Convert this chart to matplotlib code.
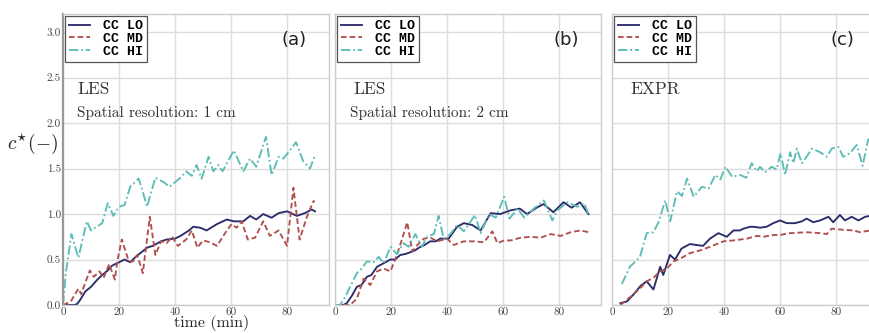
import matplotlib
matplotlib.use("Agg")
import matplotlib.pyplot as plt
from matplotlib.ticker import FuncFormatter

plt.rcParams['mathtext.fontset'] = 'cm'
plt.rcParams['axes.formatter.use_mathtext'] = True

labels = ['CC LO', 'CC MD', 'CC HI']
panel_tags = ['(a)', '(b)', '(c)']
panel_texts = [['LES', 'Spatial resolution: 1 cm'], ['LES', 'Spatial resolution: 2 cm'], ['EXPR']]
x_ticks = [0, 20, 40, 60, 80]
y_ticks = [0.0, 0.5, 1.0, 1.5, 2.0, 2.5, 3.0]

# Panel (a)
a_lo_t = [0, 2, 4, 5, 6, 8, 10, 12, 14, 16, 17, 18, 20, 22, 24, 26, 28, 30, 32, 35, 37, 40, 42, 45, 46.5, 49, 51.3, 55, 58.5, 61, 64.4, 66.8, 69, 71.5, 74.5, 77, 80, 83.5, 86.4, 88.8, 90]
a_lo_v = [0, 0, 0, 0.01, 0.05, 0.15, 0.2, 0.27, 0.33, 0.38, 0.42, 0.44, 0.47, 0.5, 0.47, 0.53, 0.58, 0.63, 0.65, 0.7, 0.72, 0.73, 0.76, 0.82, 0.86, 0.85, 0.82, 0.89, 0.94, 0.92, 0.92, 0.98, 0.94, 1.0, 0.96, 1.01, 1.03, 0.98, 1.01, 1.05, 1.03]
a_md_t = [0, 1.5, 3, 5.5, 6.5, 8, 9.6, 11, 13, 14.5, 16.5, 18.5, 19.5, 21, 23.5, 25, 26.5, 28.5, 31, 33, 35, 37, 39, 41, 44, 46, 48, 50, 52.5, 55, 58.5, 60.2, 62, 63.8, 66, 68.6, 71.5, 73.9, 77, 80, 82.3, 84.5, 87, 89.4, 90]
a_md_v = [0, 0.02, 0.05, 0.18, 0.12, 0.25, 0.38, 0.31, 0.37, 0.3, 0.45, 0.28, 0.5, 0.72, 0.48, 0.48, 0.55, 0.35, 0.97, 0.55, 0.7, 0.68, 0.75, 0.65, 0.72, 0.82, 0.63, 0.71, 0.69, 0.65, 0.82, 0.89, 0.85, 0.92, 0.72, 0.74, 0.92, 0.76, 0.82, 0.65, 1.29, 0.72, 0.96, 1.14, 1.14]
a_hi_t = [0, 1, 3, 5.5, 8.5, 10, 12, 14, 16, 18, 20, 22, 24, 27, 28, 30, 33, 36, 38, 42, 44, 46, 47.7, 49.5, 52, 53.7, 55.5, 57, 61, 64.4, 66.8, 69, 72.5, 74.5, 77, 78.7, 80.5, 83.2, 85.8, 88.2, 90]
a_hi_v = [0, 0.35, 0.78, 0.52, 0.92, 0.82, 0.86, 0.9, 1.12, 0.98, 1.08, 1.1, 1.3, 1.39, 1.3, 1.08, 1.4, 1.35, 1.3, 1.4, 1.47, 1.42, 1.54, 1.39, 1.63, 1.47, 1.54, 1.47, 1.70, 1.47, 1.61, 1.52, 1.85, 1.43, 1.63, 1.61, 1.68, 1.79, 1.58, 1.5, 1.65]

# Panel (b)
b_lo_t = [0, 3, 4.2, 6, 7.8, 9.5, 11.4, 13, 15, 17.4, 19.8, 21.5, 23.3, 25, 26.9, 28.5, 30.5, 32, 34, 36, 37.6, 40.6, 43.6, 46, 49, 52, 55.6, 59, 62.6, 66, 68.6, 72, 74.5, 78, 81.6, 84.5, 87.5, 90.5]
b_lo_v = [0, 0, 0.02, 0.1, 0.2, 0.22, 0.31, 0.33, 0.42, 0.46, 0.50, 0.5, 0.55, 0.56, 0.58, 0.6, 0.64, 0.66, 0.70, 0.7, 0.73, 0.73, 0.86, 0.90, 0.88, 0.82, 1.01, 1.0, 1.04, 1.06, 1.0, 1.07, 1.11, 1.02, 1.13, 1.07, 1.13, 1.0]
b_md_t = [0, 3, 5.4, 7.8, 10.2, 12.6, 15, 17.4, 19.8, 22.1, 24, 25.8, 27.6, 29.4, 31.8, 34.1, 36.5, 40, 42.4, 46, 49.6, 53.2, 56.2, 58, 60.4, 62.8, 66.3, 69.9, 73.4, 77, 80.6, 84.1, 87.7, 90.6]
b_md_v = [0, 0, 0, 0.07, 0.29, 0.22, 0.37, 0.40, 0.37, 0.55, 0.73, 0.91, 0.59, 0.66, 0.73, 0.74, 0.70, 0.73, 0.66, 0.70, 0.70, 0.69, 0.81, 0.68, 0.71, 0.71, 0.74, 0.75, 0.74, 0.78, 0.76, 0.80, 0.82, 0.80]
b_hi_t = [0, 1.8, 3.5, 5.4, 7.8, 9.5, 11.4, 13.8, 15.6, 17.4, 19.8, 22.1, 24.5, 26.3, 28.7, 31, 32.9, 35.3, 37, 38.8, 41.2, 43.6, 46, 48.5, 50, 52, 55, 57.4, 60.4, 62.3, 65.2, 67.6, 71, 74.6, 77.6, 79.4, 83, 86.6, 89, 90.5]
b_hi_v = [0, 0, 0.08, 0.2, 0.35, 0.4, 0.48, 0.47, 0.53, 0.46, 0.64, 0.56, 0.68, 0.64, 0.78, 0.64, 0.75, 0.78, 0.98, 0.73, 0.78, 0.88, 0.81, 0.92, 0.99, 0.79, 1.0, 0.96, 1.19, 0.95, 1.06, 0.96, 1.06, 1.15, 0.93, 1.04, 1.13, 1.08, 1.12, 1.0]

# Panel (c)
c_lo_t = [3, 5.4, 7.8, 10.2, 12.4, 14.8, 17.2, 18.3, 20.7, 22.5, 24.8, 27.8, 30.2, 32.5, 35, 38, 41, 43.4, 45.7, 47, 49.3, 50.6, 52.9, 55.2, 57.6, 60, 62.4, 65.4, 67.8, 69.5, 71.9, 74.3, 77.3, 79, 81.4, 83.2, 85.6, 88, 90.4, 92.2]
c_lo_v = [0.02, 0.04, 0.12, 0.21, 0.26, 0.17, 0.42, 0.33, 0.55, 0.50, 0.62, 0.67, 0.66, 0.65, 0.73, 0.79, 0.75, 0.82, 0.82, 0.84, 0.86, 0.86, 0.85, 0.86, 0.90, 0.93, 0.90, 0.90, 0.92, 0.95, 0.91, 0.93, 0.97, 0.91, 0.99, 0.93, 0.97, 0.93, 0.97, 0.98]
c_md_t = [3, 5.4, 7.8, 10.2, 12.4, 14.8, 17.2, 19.6, 22, 24.4, 27.8, 31.4, 35, 39.8, 43.4, 48.2, 51.7, 54.1, 57.6, 60, 63.6, 69.5, 74.3, 76.7, 78.5, 81.4, 86.2, 88.6, 92.2]
c_md_v = [0, 0.06, 0.12, 0.19, 0.26, 0.30, 0.37, 0.40, 0.48, 0.51, 0.57, 0.60, 0.64, 0.70, 0.71, 0.73, 0.76, 0.75, 0.77, 0.77, 0.79, 0.80, 0.79, 0.78, 0.84, 0.83, 0.82, 0.80, 0.82]
c_hi_t = [3.5, 6.4, 10, 12.4, 14.8, 16.6, 19, 20.8, 23.2, 25, 26.8, 29.2, 32.1, 34.5, 36.9, 38.7, 40.5, 42.9, 45.7, 48, 49.9, 51.7, 52.9, 54.6, 57, 58.8, 60.2, 61.8, 63.6, 64.8, 66, 67.8, 69.5, 71.4, 74.3, 76.7, 78.5, 80.8, 82.6, 85, 87.4, 89.5, 91.5, 93]
c_hi_v = [0.23, 0.42, 0.53, 0.79, 0.8, 0.91, 1.15, 0.92, 1.25, 1.2, 1.39, 1.19, 1.30, 1.28, 1.43, 1.38, 1.52, 1.41, 1.43, 1.40, 1.56, 1.47, 1.52, 1.46, 1.52, 1.49, 1.67, 1.43, 1.68, 1.56, 1.72, 1.56, 1.63, 1.72, 1.68, 1.63, 1.72, 1.74, 1.63, 1.67, 1.76, 1.53, 1.82, 1.8]

panels = [
    [(a_lo_t, a_lo_v), (a_md_t, a_md_v), (a_hi_t, a_hi_v)],
    [(b_lo_t, b_lo_v), (b_md_t, b_md_v), (b_hi_t, b_hi_v)],
    [(c_lo_t, c_lo_v), (c_md_t, c_md_v), (c_hi_t, c_hi_v)],
]

colors = ['#2c2c6c', '#b0504c', '#5cbdb6']
styles = ['-', (0, (3, 1.6)), (0, (5, 1.5, 1, 1.5))]

W, H = 870, 333
fig = plt.figure(figsize=(W / 100, H / 100), dpi=100)
fig.patch.set_facecolor('white')

lefts = [63, 335, 612]
ax_w = 266
ax_top, ax_bot = 14, 305
text_x = [0.053, 0.068, 0.068]
sub_x = [0.053, 0.056, 0.056]
CM = 'cmr10'

for i, (left, data) in enumerate(zip(lefts, panels)):
    ax = fig.add_axes([left / W, 1 - ax_bot / H, ax_w / W, (ax_bot - ax_top) / H])
    for (t, v), c, ls, lab in zip(data, colors, styles, labels):
        ax.plot(t, v, color=c, linestyle=ls, linewidth=1.35, label=lab)
    ax.set_xlim(0, 95)
    ax.set_ylim(0, 3.2)
    ax.set_xticks(x_ticks)
    ax.set_yticks(y_ticks)
    ax.grid(True, color='#dddddd', linewidth=1.0)
    ax.set_axisbelow(True)
    for s in ax.spines.values():
        s.set_color('#cccccc')
        s.set_linewidth(1.0)
    if i == 0:
        ax.spines['left'].set_color('#999999')
        ax.spines['left'].set_linewidth(1.6)
    ax.tick_params(length=0, pad=1.5, labelsize=8, labelcolor='#444444')
    ax.xaxis.set_major_formatter(FuncFormatter(lambda v, p: '%d' % v))
    for lab in ax.get_xticklabels() + ax.get_yticklabels():
        lab.set_fontfamily(CM)
    if i == 0:
        ax.yaxis.set_major_formatter(FuncFormatter(lambda v, p: '%.1f' % v))
    else:
        ax.tick_params(axis='y', labelleft=False)
    for lab in ax.get_xticklabels() + ax.get_yticklabels():
        lab.set_fontfamily(CM)
    leg = ax.legend(loc='upper left', prop=dict(family='Liberation Mono', weight='bold', size=9.5),
                    handlelength=1.6, handletextpad=1.0, labelspacing=0.05, borderpad=0.3,
                    borderaxespad=0.15, fancybox=False, framealpha=1, edgecolor='#555555')
    leg.get_frame().set_linewidth(0.9)
    ax.text(0.868, 0.91, panel_tags[i], transform=ax.transAxes, ha='center', va='center',
            fontsize=13, family='DejaVu Sans', color='#222222')
    txts = panel_texts[i]
    ax.text(text_x[i], 0.742, txts[0], transform=ax.transAxes, family=CM,
            ha='left', va='center', fontsize=12.5, color='#333333')
    if len(txts) > 1:
        ax.text(sub_x[i], 0.66, txts[1], transform=ax.transAxes, family=CM,
                ha='left', va='center', fontsize=11, color='#333333')

fig.text(32 / W, 1 - 144 / H, r'$c^{\star}(-)$', ha='center', va='center', fontsize=14, color='#222222')
fig.text(212 / W, 1 - 331 / H, 'time (min)', family=CM, ha='center', va='bottom', fontsize=11.5, color='#222222')

fig.savefig('out.png', dpi=100, facecolor='white')
